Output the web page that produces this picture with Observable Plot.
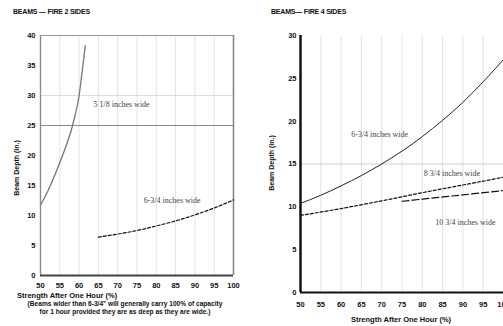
<!DOCTYPE html>
<html>
<head>
<meta charset="utf-8">
<script src="https://cdn.jsdelivr.net/npm/d3@7"></script>
<script src="https://cdn.jsdelivr.net/npm/@observablehq/plot@0.6"></script>
<style>
  html, body { margin:0; padding:0; background:#fff; }
  body { width:503px; height:326px; overflow:hidden; position:relative; }
  .t { position:absolute; font-family:"Liberation Sans", Arial, sans-serif; font-weight:bold; color:#111; white-space:nowrap; }
  .chart { position:absolute; top:0; }
</style>
</head>
<body>
<script>
// ---- data ----
const xTicks = [50,55,60,65,70,75,80,85,90,95,100];
const yTicksLeft = [0,5,10,15,20,25,30,35,40];
const yTicksRight = [0,5,10,15,20,25,30];

// Left chart: fire on 2 sides
const l51Strength = [50,52,54,56,58,59,60,60.5,61,61.6];
const l51Depth    = [11.7,14.2,17.2,20.5,24.3,26.8,30,32.5,35,38.3];
const l634Strength = [65,70,75,80,85,90,95,100];
const l634Depth    = [6.4,6.9,7.5,8.25,9.1,10.1,11.25,12.6];

// Right chart: fire on 4 sides
const r634Strength = [50,55,60,65,70,75,80,85,90,95,100];
const r634Depth    = [10.4,11.35,12.45,13.65,15.0,16.5,18.2,20.1,22.2,24.6,27.2];
const r834Strength = [50,60,70,80,90,100];
const r834Depth    = [9.0,9.8,10.7,11.65,12.55,13.45];
const r1034Strength = [75,80,90,100];
const r1034Depth    = [10.65,10.9,11.4,11.9];

const leftLabels = [
  {x:71, y:28.5, text:"5 1/8 inches wide"},
  {x:84.1, y:12.5, text:"6-3/4 inches wide"}
];
const rightLabels = [
  {x:69.5, y:18.4, text:"6-3/4 inches wide"},
  {x:87.3, y:13.9, text:"8 3/4 inches wide"},
  {x:90.6, y:8.2, text:"10 3/4 inches wide"}
];

const zip = (xs, ys) => xs.map((x,i)=>({x, y:ys[i]}));

const axisStyle = {fontFamily:"Liberation Sans, Arial, sans-serif", fontSize:"7.5px", fontWeight:"bold", color:"#111", background:"#fff", overflow:"visible"};
const labelFont = "Liberation Serif, DejaVu Serif, serif";

// ---- left chart ----
const left = Plot.plot({
  width:250, height:326,
  marginTop:35, marginBottom:51, marginLeft:40, marginRight:17,
  x:{domain:[50,100]},
  y:{domain:[0,40]},
  style: axisStyle,
  marks:[
    Plot.ruleX(xTicks.slice(1,-1), {stroke:"#e4e4e4", strokeWidth:1}),
    Plot.ruleY([30], {stroke:"#dcdcdc"}),
    Plot.ruleY([25], {stroke:"#8a8a8a", strokeWidth:1.2}),
    Plot.ruleY([40], {stroke:"#999", strokeWidth:1}),
    Plot.ruleX([100], {stroke:"#888", strokeWidth:1.6}),
    Plot.ruleX([50], {stroke:"#8a8a8a", strokeWidth:1.4}),
    Plot.ruleY([0], {stroke:"#444", strokeWidth:2}),
    Plot.line(zip(l51Strength, l51Depth), {x:"x", y:"y", stroke:"#777", strokeWidth:1.3, curve:"monotone-x"}),
    Plot.line(zip(l634Strength, l634Depth), {x:"x", y:"y", stroke:"#111", strokeWidth:1.2, strokeDasharray:"3,2", curve:"monotone-x"}),
    Plot.text(leftLabels, {x:"x", y:"y", text:"text", fontFamily:labelFont, fontSize:8, fontWeight:"normal", fill:"#444"}),
    Plot.axisX({ticks:xTicks, tickSize:0, tickPadding:7, label:null}),
    Plot.axisY({ticks:yTicksLeft, tickSize:0, tickPadding:5, label:null})
  ]
});
left.classList.add("chart");
left.style.left = "0px";
document.body.appendChild(left);

// ---- right chart ----
const right = Plot.plot({
  width:268, height:326,
  marginTop:35, marginBottom:34, marginLeft:50, marginRight:15,
  x:{domain:[50,100]},
  y:{domain:[0,30]},
  style: axisStyle,
  marks:[
    Plot.ruleX(xTicks.slice(1), {stroke:"#e2e2e2", strokeWidth:1}),
    Plot.ruleY([15], {stroke:"#cfcfcf", strokeWidth:1}),
    Plot.ruleX([50], {stroke:"#111", strokeWidth:2.5}),
    Plot.ruleY([0], {stroke:"#111", strokeWidth:2}),
    Plot.line(zip(r634Strength, r634Depth), {x:"x", y:"y", stroke:"#222", strokeWidth:1, curve:"monotone-x"}),
    Plot.line(zip(r834Strength, r834Depth), {x:"x", y:"y", stroke:"#111", strokeWidth:1.2, strokeDasharray:"3,2", curve:"monotone-x"}),
    Plot.line(zip(r1034Strength, r1034Depth), {x:"x", y:"y", stroke:"#111", strokeWidth:1.2, strokeDasharray:"7,3", curve:"monotone-x"}),
    Plot.text(rightLabels, {x:"x", y:"y", text:"text", fontFamily:labelFont, fontSize:8, fontWeight:"normal", fill:"#444"}),
    Plot.axisX({ticks:xTicks, tickSize:0, tickPadding:9, label:null}),
    Plot.axisY({ticks:yTicksRight, tickSize:0, tickPadding:4, label:null})
  ]
});
right.classList.add("chart");
right.style.left = "250px";
document.body.appendChild(right);

// ---- titles, axis titles, caption ----
function addText(txt, css) {
  const d = document.createElement("div");
  d.className = "t";
  d.textContent = txt;
  Object.assign(d.style, css);
  document.body.appendChild(d);
  return d;
}
addText("BEAMS — FIRE 2 SIDES", {left:"13px", top:"8px", fontSize:"7px", fontWeight:"900", letterSpacing:"-0.2px"});
addText("BEAMS— FIRE 4 SIDES", {left:"271px", top:"8px", fontSize:"7px", fontWeight:"900", letterSpacing:"-0.2px"});
addText("Beam Depth (in.)", {left:"16px", top:"168px", fontSize:"7px", transform:"translate(-50%,-50%) rotate(-90deg)"});
addText("Beam Depth (in.)", {left:"271px", top:"163px", fontSize:"7px", transform:"translate(-50%,-50%) rotate(-90deg)"});
addText("Strength After One Hour (%)", {left:"17px", top:"291px", fontSize:"7.5px"});
addText("(Beams wider than 6-3/4\" will generally carry 100% of capacity", {left:"125px", top:"300px", fontSize:"6.6px", transform:"translateX(-50%)"});
addText("for 1 hour provided they are as deep as they are wide.)", {left:"125px", top:"308px", fontSize:"6.6px", transform:"translateX(-50%)"});
addText("Strength After One Hour (%)", {left:"401px", top:"315px", fontSize:"7.5px", transform:"translateX(-50%)"});
</script>
</body>
</html>
